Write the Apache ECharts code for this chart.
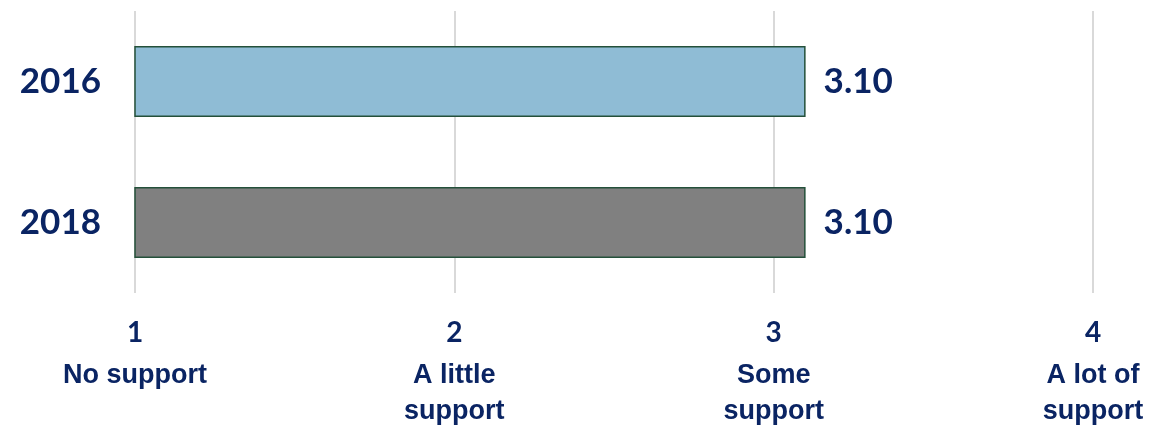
<!DOCTYPE html>
<html>
<head>
<meta charset="utf-8">
<script src="https://cdn.jsdelivr.net/npm/echarts@6/dist/echarts.min.js"></script>
<style>
  html, body { margin: 0; padding: 0; background: #fff; }
  #chart { width: 1174px; height: 429px; }
</style>
</head>
<body>
<div id="chart"></div>
<script>
// Survey years and mean support scores
const years = ['2016', '2018'];
const scores = [3.10, 3.10];

// Scale points on the support axis
const scaleValues = [1, 2, 3, 4];
const scaleNumbers = ['1', '2', '3', '4'];
const scaleNames = ['No support', 'A little\nsupport', 'Some\nsupport', 'A lot of\nsupport'];

const barColors = ['#8fbcd5', '#808080'];
const navy = '#0a2463';

const chart = echarts.init(document.getElementById('chart'));

chart.setOption({
  animation: false,
  grid: { left: 135, right: 81, top: 11, bottom: 136, containLabel: false },
  xAxis: {
    type: 'value',
    min: 1,
    max: 4,
    interval: 1,
    axisLine: { show: false },
    axisTick: { show: false },
    splitLine: { show: true, lineStyle: { color: '#d9d9d9', width: 2 } },
    axisLabel: {
      margin: 15,
      formatter: function (v) {
        const i = scaleValues.indexOf(v);
        if (i < 0) return '';
        const lines = scaleNames[i].split('\n').map(s => '{txt|' + s + '}').join('\n');
        return '{num|' + scaleNumbers[i] + '}\n' + lines;
      },
      rich: {
        num: {
          fontFamily: 'Lato', fontWeight: 'bold', fontSize: 28,
          color: navy, lineHeight: 50, align: 'center'
        },
        txt: {
          fontFamily: '"Liberation Sans", Arial, sans-serif', fontWeight: 'bold', fontSize: 27,
          color: navy, lineHeight: 36, align: 'center'
        }
      }
    }
  },
  yAxis: {
    type: 'category',
    data: years,
    inverse: true,
    axisLine: { show: false },
    axisTick: { show: false },
    splitLine: { show: false },
    axisLabel: {
      margin: 34,
      fontFamily: 'Lato',
      fontWeight: 'bold',
      fontSize: 35,
      color: navy
    }
  },
  series: [{
    type: 'bar',
    barWidth: 71,
    data: scores.map((v, i) => ({
      value: v,
      itemStyle: { color: barColors[i], borderColor: '#24503a', borderWidth: 1.5 }
    })),
    label: {
      show: true,
      position: 'right',
      distance: 18,
      fontFamily: 'Lato',
      fontWeight: 'bold',
      fontSize: 35,
      color: navy,
      formatter: p => p.value.toFixed(2)
    }
  }]
});
</script>
</body>
</html>
